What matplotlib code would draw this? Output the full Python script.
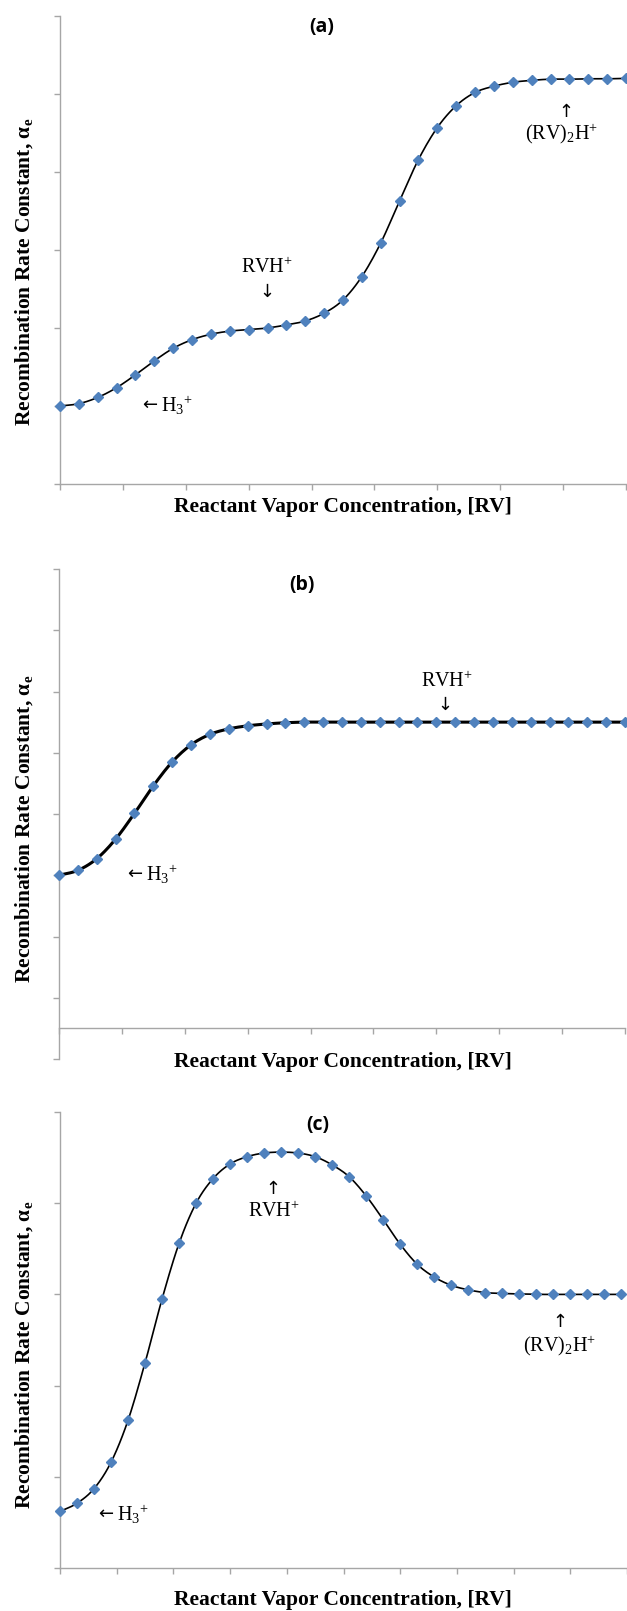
import numpy as np
import matplotlib
matplotlib.use("Agg")
import matplotlib.pyplot as plt

# values (arbitrary units, one point per step)
a_x = list(range(31))
a_vals = [1.0, 1.03, 1.11, 1.235, 1.40, 1.58, 1.74, 1.85, 1.92, 1.96,
          1.98, 2.00, 2.04, 2.09, 2.19, 2.36, 2.66, 3.09, 3.63, 4.16,
          4.57, 4.85, 5.02, 5.10, 5.15, 5.175, 5.19, 5.19, 5.195, 5.195, 5.20]

b_x = list(range(31))
b_vals = [3.0, 3.08, 3.27, 3.59, 4.01, 4.46, 4.85, 5.13, 5.30, 5.39,
          5.44, 5.47, 5.49, 5.50, 5.50, 5.50, 5.50, 5.50, 5.50, 5.50,
          5.50, 5.50, 5.50, 5.50, 5.50, 5.50, 5.50, 5.50, 5.50, 5.50, 5.50]

c_x = list(range(34))
c_vals = [0.62, 0.71, 0.87, 1.16, 1.62, 2.25, 2.95, 3.56, 4.00, 4.27,
          4.43, 4.51, 4.55, 4.56, 4.55, 4.51, 4.42, 4.29, 4.08, 3.82,
          3.55, 3.33, 3.19, 3.10, 3.05, 3.02, 3.01, 3.005, 3.0, 3.0,
          3.0, 3.0, 3.0, 3.0]

plt.rcParams['mathtext.fontset'] = 'custom'
plt.rcParams['mathtext.rm'] = 'Liberation Serif'
plt.rcParams['mathtext.it'] = 'Liberation Serif:italic'
plt.rcParams['mathtext.bf'] = 'Liberation Serif:bold'

W, H = 627, 1611
fig = plt.figure(figsize=(W / 100, H / 100), dpi=100)

BLUE = '#4F81BD'
GRAY = '#A6A6A6'
SERIF = ['Liberation Serif', 'DejaVu Serif']


def smooth(x, y, n=12):
    # catmull-rom curve through the points, like excel's smoothed line
    x = np.asarray(x, float)
    y = np.asarray(y, float)
    px = np.concatenate([[2 * x[0] - x[1]], x, [2 * x[-1] - x[-2]]])
    py = np.concatenate([[2 * y[0] - y[1]], y, [2 * y[-1] - y[-2]]])
    t = np.linspace(0, 1, n, endpoint=False)
    xs, ys = [], []
    for i in range(1, len(px) - 2):
        for p, out in ((px, xs), (py, ys)):
            p0, p1, p2, p3 = p[i - 1], p[i], p[i + 1], p[i + 2]
            out.append(0.5 * (2 * p1 + (-p0 + p2) * t
                              + (2 * p0 - 5 * p1 + 4 * p2 - p3) * t ** 2
                              + (-p0 + 3 * p1 - 3 * p2 + p3) * t ** 3))
    xs.append([x[-1]])
    ys.append([y[-1]])
    return np.concatenate(xs), np.concatenate(ys)


def make_ax(l, t, r, b):
    ax = fig.add_axes([l / W, 1 - b / H, (r - l) / W, (b - t) / H])
    for s in ['top', 'right']:
        ax.spines[s].set_visible(False)
    for s in ['left', 'bottom']:
        ax.spines[s].set_color(GRAY)
        ax.spines[s].set_linewidth(1.0)
    ax.tick_params(axis='both', direction='out', length=4, width=1,
                   color=GRAY, labelleft=False, labelbottom=False)
    return ax


def txt(x, y, s, **kw):
    kw.setdefault('ha', 'center')
    kw.setdefault('va', 'center')
    fig.text(x / W, 1 - y / H, s, **kw)


def draw(ax, x, y, lw):
    sx, sy = smooth(x, y)
    ax.plot(sx, sy, color='black', lw=lw, zorder=2, clip_on=False)
    ax.plot(x, y, ls='none', marker='D', ms=4.8, color=BLUE, mec=BLUE,
            zorder=3, clip_on=False)


ylab = r'Recombination Rate Constant, $\mathbf{\alpha_e}$'
xlab = 'Reactant Vapor Concentration, [RV]'
h3 = r'H$_3$$^{+}$'
LAB = dict(family=SERIF, fontweight='bold', fontsize=15.5)
ANN = dict(family=SERIF, fontsize=14.5)
ARR = dict(family=['DejaVu Sans'], fontsize=13)
TIT = dict(family=['Open Sans', 'DejaVu Sans'], fontweight='bold', fontsize=14)

# (a)
ax1 = make_ax(60, 16, 626, 484)
draw(ax1, a_x, a_vals, 1.2)
ax1.set_xlim(0, 30)
ax1.set_ylim(0, 6)
ax1.set_xticks(np.linspace(0, 30, 10))
ax1.set_yticks(range(7))
txt(322, 27, '(a)', **TIT)
txt(267, 268, r'RVH$^{+}$', **ANN)
txt(267, 292, '↓', **ARR)
txt(142, 405, '←', ha='left', **ARR)
txt(161, 405, h3, ha='left', **ANN)
txt(566, 112, '↑', **ARR)
txt(562, 134, r'(RV)$_2$H$^{+}$', **ANN)
txt(24, 272, ylab, rotation=90, **LAB)
txt(343, 507, xlab, **LAB)

# (b)
ax2 = make_ax(59, 569, 625, 1059)
draw(ax2, b_x, b_vals, 2.2)
ax2.set_xlim(0, 30)
ax2.set_ylim(0, 8)
ax2.spines['bottom'].set_position(('data', 0.5))
ax2.set_xticks(np.linspace(0, 30, 10))
ax2.set_yticks(range(9))
txt(302, 585, '(b)', **TIT)
txt(447, 682, r'RVH$^{+}$', **ANN)
txt(445, 705, '↓', **ARR)
txt(127, 874, '←', ha='left', **ARR)
txt(146, 874, h3, ha='left', **ANN)
txt(24, 829, ylab, rotation=90, **LAB)
txt(343, 1062, xlab, **LAB)

# (c)
ax3 = make_ax(60, 1112, 627, 1568)
draw(ax3, c_x, c_vals, 1.2)
ax3.set_xlim(0, 100 / 3)
ax3.set_ylim(0, 5)
ax3.set_xticks(np.linspace(0, 100 / 3, 11))
ax3.set_yticks(range(6))
txt(318, 1125, '(c)', **TIT)
txt(273, 1189, '↑', **ARR)
txt(274, 1212, r'RVH$^{+}$', **ANN)
txt(98, 1514, '←', ha='left', **ARR)
txt(117, 1514, h3, ha='left', **ANN)
txt(560, 1322, '↑', **ARR)
txt(560, 1346, r'(RV)$_2$H$^{+}$', **ANN)
txt(24, 1355, ylab, rotation=90, **LAB)
txt(343, 1600, xlab, **LAB)

fig.savefig('out.png', dpi=100)
